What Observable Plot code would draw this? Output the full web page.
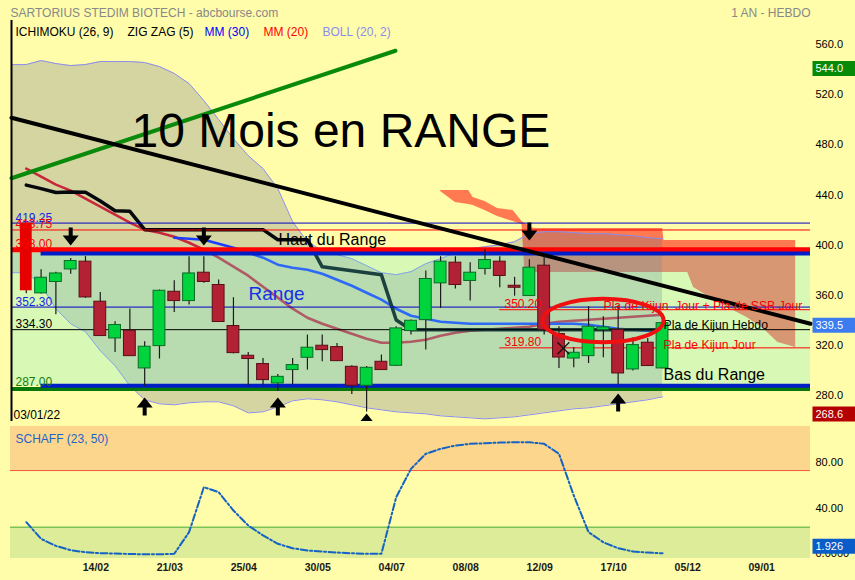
<!DOCTYPE html>
<html>
<head>
<meta charset="utf-8">
<script src="https://cdn.jsdelivr.net/npm/d3@7"></script>
<script src="https://cdn.jsdelivr.net/npm/@observablehq/plot@0.6"></script>
<style>
  html, body { margin: 0; padding: 0; background: #fffcaa; }
  #chart { width: 855px; height: 580px; overflow: hidden; }
  #chart svg { display: block; }
</style>
</head>
<body>
<div id="chart"></div>
<script>
const FONT = "'Liberation Sans', Arial, Helvetica, sans-serif";

// ---- Weekly candles, week 0 = 03/01/22 ----
const firstDate = "03/01/22";
const opens  = [419.25, 363.2, 372.3, 382.3, 388.5, 356.6, 327.3, 333.4, 303.4, 321.2,
                364.5, 357.1, 379.7, 369.9, 337.2, 313.5, 306.9, 291.4, 302.1, 311.9,
                321.5, 320.4, 304.7, 289.6, 308.7, 305.5, 333.2, 341.9, 371.2, 387.7,
                373.1, 382.7, 388.5, 369.3, 361.1, 385.3, 330.8, 311.3, 313.2, 334.0,
                334.0, 302.6, 323.9, 303.4];
const highs  = [419.25, 382.1, 380.0, 391.1, 392.5, 364.0, 340.6, 350.7, 324.7, 365.9,
                373.3, 392.5, 392.5, 373.9, 359.8, 316.1, 311.3, 298.6, 311.3, 330.0,
                330.0, 323.3, 305.5, 305.0, 314.1, 336.6, 342.0, 381.1, 392.5, 392.5,
                387.7, 398.0, 392.5, 376.0, 390.0, 392.5, 336.6, 320.0, 352.6, 344.6,
                353.4, 327.9, 327.3, 340.0];
const lows   = [363.0, 362.8, 346.2, 378.4, 359.2, 329.0, 316.1, 313.0, 289.0, 310.9,
                348.0, 354.0, 371.2, 340.0, 315.0, 289.6, 289.6, 285.0, 290.1, 302.1,
                308.7, 309.0, 282.6, 268.6, 302.0, 305.0, 330.0, 318.0, 351.2, 366.7,
                357.1, 377.9, 367.7, 361.0, 361.0, 330.0, 303.4, 303.9, 307.3, 311.9,
                290.1, 301.3, 305.0, 303.0];
const closes = [365.3, 375.7, 379.1, 389.0, 360.0, 329.2, 338.0, 313.2, 320.7, 365.3,
                357.1, 379.1, 372.3, 340.4, 315.6, 310.9, 294.1, 296.7, 306.1, 319.9,
                318.0, 309.2, 289.6, 303.9, 302.1, 335.3, 341.4, 374.7, 388.5, 369.9,
                379.7, 389.8, 377.1, 367.7, 383.7, 334.0, 312.1, 315.9, 336.6, 336.1,
                299.4, 322.0, 305.3, 339.5];

// ---- Bollinger (20, 2), first value one week before the first candle ----
const bollStart = -1;
const bollUpper = [545.5, 545.6, 548.8, 546.4, 544.8, 545.6, 548.0, 548.0, 548.0, 547.2,
                   544.0, 538.5, 530.5, 516.9, 501.8, 486.6, 473.0, 462.7, 446.7, 420.4,
                   404.4, 397.3, 394.1, 390.9, 385.3, 379.7, 378.1, 380.5, 386.9, 390.9,
                   395.7, 398.8, 400.4, 402.0, 404.4, 410.8, 412.4, 412.4, 411.6, 410.8,
                   410.8, 410.0, 409.2, 407.6, 406.8];
const bollLower = [379.7, 379.7, 370.1, 351.0, 339.0, 332.6, 317.5, 305.5, 289.6, 278.4,
                   275.2, 274.4, 276.0, 276.8, 276.8, 273.6, 268.0, 268.8, 272.8, 277.6,
                   279.2, 278.4, 276.8, 274.4, 272.0, 270.4, 268.8, 268.0, 267.2, 265.6,
                   264.8, 264.0, 263.2, 264.0, 264.8, 266.4, 268.0, 269.6, 271.2, 272.0,
                   273.6, 275.2, 276.8, 278.4, 280.8];

// ---- Moving averages and Kijun ----
const mm20 = [462.7, 456.3, 449.9, 445.1, 438.7, 432.4, 426.0, 419.6, 414.0, 411.6,
              408.4, 403.6, 398.1, 391.7, 384.5, 377.3, 368.5, 359.8, 351.0, 343.8,
              339.0, 335.0, 331.0, 327.1, 323.9, 323.9, 324.7, 326.3, 329.5, 331.8,
              333.4, 334.2, 335.0, 335.8, 336.6, 339.0, 340.6, 341.4, 342.2, 343.0,
              343.8, 344.6, 345.4, 346.2];
const mm30Start = 10;
const mm30 = [407.6, 406.8, 406.0, 402.8, 399.6, 395.7, 391.7, 386.1, 383.7, 382.1,
              378.9, 374.1, 369.3, 363.7, 358.2, 351.0, 345.4, 343.0, 340.6, 339.8,
              339.0, 339.0, 339.0, 339.0, 339.0, 339.0, 339.0, 339.0, 338.2, 336.6,
              335.0, 334.2, 333.4, 332.6];
const kijun = [449.5, 446.7, 443.6, 444.1, 443.9, 436.8, 429.1, 428.6, 414.0, 414.0,
               414.0, 414.0, 414.0, 414.0, 414.0, 414.0, 414.0, 406.0, 406.0, 406.0,
               384.4, 382.8, 381.2, 379.6, 378.0, 342.0, 334.3, 334.3, 334.3, 334.3,
               334.3, 334.3, 334.3, 334.3, 334.3, 334.3, 334.3, 334.3, 334.3, 334.3,
               334.3, 334.3, 334.3, 334.3];

// ---- Ichimoku cloud (projected forward) ----
const cloudWeeks  = [28, 29, 29.9, 30.2, 31, 31.85, 32.9, 33.5, 33.7, 34.3,
                     43, 43.1, 44.7, 45.1, 46.2, 47.4, 48.7, 49.8, 50.8, 52];
const cloudTop    = [445.2, 445.2, 445.2, 439.6, 436.5, 430.9, 429.3, 420.5, 418.9, 415.0,
                     415.0, 405.4, 405.4, 405.4, 405.4, 405.4, 405.4, 405.4, 405.4, 405.4];
const cloudBottom = [444.4, 435.7, 434.1, 433.3, 429.3, 424.5, 420.5, 418.1, 379.9, 379.9,
                     379.9, 379.9, 379.9, 367.9, 359.9, 352.0, 344.0, 335.2, 324.1, 320.1];

// ---- Schaff trend cycle (23, 50) ----
const schaffValues = [29.4, 14.7, 8.5, 4.7, 2.9, 2.0, 1.8, 1.3, 1.1, 1.1,
                      1.5, 20.6, 60.3, 55.9, 39.7, 26.5, 17.7, 10.3, 6.4, 4.4,
                      3.5, 2.6, 2.0, 1.5, 1.5, 51.5, 76.5, 89.8, 94.2, 97.1,
                      98.6, 99.1, 99.7, 100, 100, 98.6, 89.8, 53.0, 20.6, 11.7,
                      6.4, 3.5, 2.6, 1.926];
const schaffHigh = 75, schaffLow = 25;

// ---- Drawn trend lines [week, price] ----
const trendUp   = [[-1, 455.0], [24.95, 556.6]];
const trendDown = [[-1, 503.2], [53, 339.0]];

// ---- Horizontal levels ----
const levelsBlue  = [419.25, 352.3];
const levelsRed   = [413.75];
const levelTop    = [398];
const levelsBlack = [334.3];
const levelsGreen = [287];
const dailyLevels = [350.2, 319.8];
const dailyFrom = 32;
const range = {start: 1, end: 53, low: 289.5, high: 395};

// ---- Swing markers ----
const swingHighWeeks = [3, 12, 34],     swingHighTips = [401.4, 401.4, 405.4];
const swingLowWeeks  = [8, 17, 23, 40], swingLowTips  = [280.2, 280.2, 267.5, 283.4];

// ---- Axes ----
const priceTicks = [560, 520, 480, 440, 400, 360, 320, 280];
const priceTags = [544.0, 339.5, 268.6];
const schaffTicks = [80, 40, 0];
const schaffTickLabels = ["80.00", "40.00", "0.0000"];
const dateTickWeeks = [4.7, 9.7, 14.7, 19.7, 24.7, 29.7, 34.7, 39.7, 44.7, 49.7];
const dateTickLabels = ["14/02", "21/03", "25/04", "30/05", "04/07", "08/08", "12/09", "17/10", "05/12", "09/01"];

const legendItems = ["ICHIMOKU (26, 9)", "ZIG ZAG (5)", "MM (30)", "MM (20)", "BOLL (20, 2)"];

// ---- Derived tables ----
const candles = d3.range(opens.length).map(i => ({i, open: opens[i], high: highs[i], low: lows[i], close: closes[i]}));
const boll = bollUpper.map((u, k) => ({i: k + bollStart, upper: u, lower: bollLower[k]}));
const mm20Data = mm20.map((v, i) => ({i, v}));
const mm30Data = mm30.map((v, k) => ({i: k + mm30Start, v}));
const kijunData = kijun.map((v, i) => ({i, v}));
const cloud = cloudWeeks.map((i, k) => ({i, top: cloudTop[k], bottom: cloudBottom[k]}));
const schaff = schaffValues.map((s, i) => ({i, s}));
const highsMarks = swingHighWeeks.map((i, k) => ({i, v: swingHighTips[k]}));
const lowsMarks = swingLowWeeks.map((i, k) => ({i, v: swingLowTips[k]}));

// ---- Custom symbols ----
const arrowDown = {draw(c) {
  c.moveTo(0, 0); c.lineTo(8, -10); c.lineTo(2, -10); c.lineTo(2, -18);
  c.lineTo(-2, -18); c.lineTo(-2, -10); c.lineTo(-8, -10); c.closePath();
}};
const arrowUp = {draw(c) {
  c.moveTo(0, 0); c.lineTo(8, 10); c.lineTo(2, 10); c.lineTo(2, 18);
  c.lineTo(-2, 18); c.lineTo(-2, 10); c.lineTo(-8, 10); c.closePath();
}};
const tagBox = {draw(c) { c.rect(-21.5, -7.5, 43, 15); }};
const ring = {draw(c) {
  const rx = 60.5, ry = 21.7, k = 0.5523;
  c.moveTo(rx, 0);
  c.bezierCurveTo(rx, k * ry, k * rx, ry, 0, ry);
  c.bezierCurveTo(-k * rx, ry, -rx, k * ry, -rx, 0);
  c.bezierCurveTo(-rx, -k * ry, -k * rx, -ry, 0, -ry);
  c.bezierCurveTo(k * rx, -ry, rx, -k * ry, rx, 0);
  c.closePath();
}};

const note = (text, i, v, opts = {}) =>
  Plot.text([text], {x: i, y: v, text: d => d, textAnchor: "start", lineAnchor: "bottom", fontSize: 12, fill: "black", ...opts});

const levelText = (values, color, opts = {}) =>
  Plot.text(values, {x: -0.73, y: d => d, text: d => d.toFixed(2), fill: color, textAnchor: "start",
                     lineAnchor: "bottom", dy: -1.5, fontSize: 12, ...opts});

const legendX = [15, 127, 204, 263, 322];
const legendColors = ["#000000", "#000000", "#0000ff", "#ff0000", "#8c8cf0"];
const tagColors = ["#078a07", "#3c7cf0", "#b40000"];

const price = Plot.plot({
  width: 855, height: 422,
  marginLeft: 11, marginRight: 45, marginTop: 20, marginBottom: 1,
  x: {domain: [-1, 53], axis: null},
  y: {domain: [261.1, 580.72], axis: null},
  style: {background: "#fffcaa", fontFamily: FONT, overflow: "visible"},
  marks: [
    // Ichimoku cloud
    Plot.areaY(cloud, {x: "i", y1: "bottom", y2: "top", fill: "#ff7a50"}),
    // Bollinger envelope
    Plot.areaY(boll, {x: "i", y1: "lower", y2: "upper", fill: "rgb(100,107,137)", fillOpacity: 0.27, clip: true}),
    Plot.line(boll, {x: "i", y: "upper", stroke: "#8c8cf0", strokeWidth: 1, clip: true}),
    Plot.line(boll, {x: "i", y: "lower", stroke: "#8c8cf0", strokeWidth: 1, clip: true}),
    // Averages and Kijun
    Plot.line(mm20Data, {x: "i", y: "v", stroke: "#c8283c", strokeWidth: 2.6}),
    Plot.line(mm30Data, {x: "i", y: "v", stroke: "#1a3cff", strokeWidth: 2.6}),
    Plot.line(kijunData, {x: "i", y: "v", stroke: "#05080c", strokeWidth: 3.5}),
    // Trading range zone (tint spans the whole width, borders start at week 1)
    Plot.rect([range], {y1: "low", y2: "high", fill: "rgb(100,240,220)", fillOpacity: 0.25}),
    // Levels
    Plot.ruleY(levelsBlue, {stroke: "#0000c8", strokeWidth: 1}),
    Plot.ruleY(levelsRed, {stroke: "#ff0000", strokeWidth: 1}),
    Plot.ruleY(levelsBlack, {stroke: "#000000", strokeWidth: 1}),
    Plot.ruleY(levelsGreen, {stroke: "#087808", strokeWidth: 4}),
    Plot.ruleY(levelTop, {stroke: "#ff0000", strokeWidth: 5}),
    Plot.ruleY([range.high, range.low], {y: d => d, x1: range.start, x2: range.end, stroke: "#001ec8", strokeWidth: 4}),
    Plot.ruleY(dailyLevels, {y: d => d, x1: dailyFrom, x2: 53, stroke: "#ff0000", strokeWidth: 1}),
    // Trend lines
    Plot.line(trendUp, {x: d => d[0], y: d => d[1], stroke: "#0a8a0a", strokeWidth: 4}),
    Plot.line(trendDown, {x: d => d[0], y: d => d[1], stroke: "#000000", strokeWidth: 4}),
    // Candles
    Plot.ruleX(candles, {x: "i", y1: "low", y2: "high", stroke: "#1b1b1b", strokeWidth: 1.2, clip: true}),
    Plot.rect(candles, {filter: d => d.i > 0 && d.close >= d.open, x1: d => d.i - 0.4, x2: d => d.i + 0.4, y1: "open", y2: "close", fill: "#00d43c", stroke: "#0b6b26", strokeWidth: 1}),
    Plot.rect(candles, {filter: d => d.i > 0 && d.close < d.open, x1: d => d.i - 0.4, x2: d => d.i + 0.4, y1: "open", y2: "close", fill: "#b22234", stroke: "#5a0e18", strokeWidth: 1}),
    Plot.rect(candles, {filter: d => d.i === 0, x1: d => d.i - 0.4, x2: d => d.i + 0.4, y1: "open", y2: "close", fill: "#e60000"}),
    // Swing arrows
    Plot.dot(highsMarks, {x: "i", y: "v", symbol: arrowDown, fill: "black", stroke: "none"}),
    Plot.dot(lowsMarks, {x: "i", y: "v", symbol: arrowUp, fill: "black", stroke: "none", clip: true}),
    Plot.dot([[36.3, 319.5]], {x: d => d[0], y: d => d[1], symbol: "times", r: 5.5, stroke: "#111", strokeWidth: 1.2}),
    // Left axis line
    Plot.ruleX([-1], {stroke: "black", strokeWidth: 2}),
    // Level labels
    levelText(levelsBlue, "#1428e6"),
    levelText(levelsRed, "#ff0000"),
    levelText(levelTop, "#ff0000"),
    levelText(levelsBlack, "#000000"),
    levelText(levelsGreen, "#108010", {dy: -3}),
    Plot.text(dailyLevels, {x: 32.32, y: d => d, text: d => d.toFixed(2), fill: "#ff0000", textAnchor: "start", lineAnchor: "bottom", dy: -1.5, fontSize: 12}),
    // Annotations
    note("10 Mois en RANGE", 7.11, 479.5, {fontSize: 48}),
    note("Haut du Range", 17.05, 401.8, {fontSize: 16}),
    note("Range", 15.02, 358.3, {fontSize: 19, fill: "#1a2ee8"}),
    note("Bas du Range", 43.07, 293.8, {fontSize: 16}),
    note("Pla de Kijun Hebdo", 43.07, 335.2, {fontSize: 12.2}),
    note("Pla de Kijun Jour", 43.07, 318.5, {fontSize: 12.2, fill: "#ff0000"}),
    note("Pla de Kijun\u00a0 Jour + Pla de SSB Jour", 39.01, 350.0, {fontSize: 12.2, fill: "#ff0000"}),
    Plot.dot([[38.98, 341.6]], {x: d => d[0], y: d => d[1], symbol: ring, fill: "none", stroke: "#f01010", strokeWidth: 4}),
    Plot.text([firstDate], {frameAnchor: "bottom-left", dx: 2, dy: -3, lineAnchor: "bottom", textAnchor: "start", fontSize: 12, fill: "black"}),
    // Right axis
    Plot.text(priceTicks, {y: d => d, text: d => d.toFixed(1), frameAnchor: "right", dx: 5, dy: -2, textAnchor: "start", fontSize: 11, fill: "black"}),
    ...priceTags.map((v, k) => Plot.dot([v], {y: d => d, frameAnchor: "right", dx: 23.5, dy: 2, symbol: tagBox, fill: tagColors[k], stroke: "none"})),
    ...priceTags.map(v => Plot.text([v], {y: d => d, text: d => d.toFixed(1), frameAnchor: "right", dx: 5, dy: 2, textAnchor: "start", fontSize: 11, fill: "white"})),
    // Header
    Plot.text(["SARTORIUS STEDIM BIOTECH - abcbourse.com"], {frameAnchor: "top-left", dx: -1, dy: -12, textAnchor: "start", fontSize: 12, fill: "#888888"}),
    Plot.text(["1 AN - HEBDO"], {frameAnchor: "top-right", dy: -12, textAnchor: "end", fontSize: 12, fill: "#888888"}),
    ...legendItems.map((t, k) => Plot.text([t], {frameAnchor: "top-left", dx: legendX[k] - 11, dy: 7, textAnchor: "start", fontSize: 12, fill: legendColors[k]}))
  ]
});

const schaffDomain = [-2.65, 113.9];
const schaffPlot = Plot.plot({
  width: 855, height: 158,
  marginLeft: 10, marginRight: 45, marginTop: 4, marginBottom: 22,
  x: {domain: [-1.0676, 53], axis: null},
  y: {domain: schaffDomain, axis: null},
  style: {background: "#fffcaa", fontFamily: FONT, overflow: "visible"},
  marks: [
    Plot.rect([[schaffHigh, schaffDomain[1]]], {y1: d => d[0], y2: d => d[1], fill: "#fdd68e"}),
    Plot.rect([[schaffDomain[0], schaffLow]], {y1: d => d[0], y2: d => d[1], fill: "#dcec98"}),
    Plot.ruleY([schaffHigh], {stroke: "#f05a3c", strokeWidth: 1}),
    Plot.ruleY([schaffLow], {stroke: "#4caf3c", strokeWidth: 1}),
    Plot.line(schaff, {x: "i", y: "s", stroke: "#1462c4", strokeWidth: 2, strokeDasharray: "7,2.5,2,2.5"}),
    Plot.text(["SCHAFF (23, 50)"], {frameAnchor: "top-left", dx: 5, dy: 8, textAnchor: "start", fontSize: 12, fill: "#1e64c8"}),
    Plot.text(schaffTicks, {y: d => d, text: (d, k) => schaffTickLabels[k], frameAnchor: "right", dx: 5, dy: -2, textAnchor: "start", fontSize: 11, fill: "black"}),
    Plot.dot([schaffValues[schaffValues.length - 1]], {y: d => d, frameAnchor: "right", dx: 23.5, dy: -7, symbol: tagBox, fill: "#0a5cc8", stroke: "none"}),
    Plot.text([schaffValues[schaffValues.length - 1]], {y: d => d, text: d => d.toFixed(3), frameAnchor: "right", dx: 5, dy: -7, textAnchor: "start", fontSize: 11, fill: "white"}),
    Plot.text(dateTickWeeks, {x: d => d, text: (d, k) => dateTickLabels[k], frameAnchor: "bottom", dy: 12, fontSize: 10.5, fontWeight: "bold", fill: "#1a1a1a"})
  ]
});

document.getElementById("chart").append(price, schaffPlot);
</script>
</body>
</html>
